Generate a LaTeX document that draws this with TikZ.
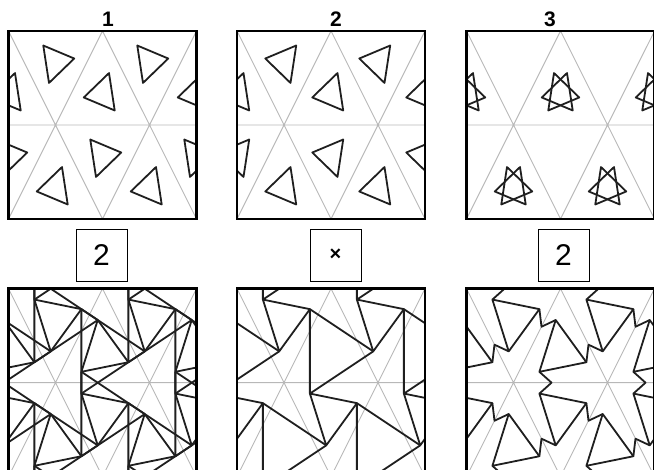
\documentclass[tikz,border=0pt]{standalone}
\usepackage{fontspec}
\setmainfont{Liberation Sans}
\usetikzlibrary{positioning}

\newcommand{\hh}{81.406}  % row height of the triangle grid
\newcommand{\rs}{19}      % small triangles of the top row
\newcommand{\rb}{27.55}   % twist triangles of the bottom row

% triangle: centre x, centre y, radius, angle of first corner
\newcommand{\trigon}[4]{%
  \draw[foldline] ({#1+#3*cos(#4)},{#2+#3*sin(#4)}) -- ({#1+#3*cos(#4+120)},{#2+#3*sin(#4+120)})
    -- ({#1+#3*cos(#4+240)},{#2+#3*sin(#4+240)}) -- cycle;}
% grey grid of one panel
\newcommand{\trigrid}{%
  \draw[gridline] (0,0) -- (94,{-2*\hh}) (94,0) -- (0,{-2*\hh})
    (94,0) -- (188,{-2*\hh}) (188,0) -- (94,{-2*\hh}) (0,-\hh) -- (188,-\hh);}
% pleats of a downward twist
\newcommand{\pleatD}[2]{%
  \draw[foldline] ({#1+\rb*cos(20)},{#2+\rb*sin(20)}) -- ({#1+94+\rb*cos(260)},{#2+\rb*sin(260)})
    ({#1+\rb*cos(20)},{#2+\rb*sin(20)}) -- ({#1+47+\rb*cos(140)},{#2-\hh+\rb*sin(140)})
    ({#1+\rb*cos(140)},{#2+\rb*sin(140)}) -- ({#1+47+\rb*cos(260)},{#2+\hh+\rb*sin(260)});}
% pleats of an upward twist (mirror image)
\newcommand{\pleatU}[2]{%
  \draw[foldline] ({#1+\rb*cos(340)},{#2+\rb*sin(340)}) -- ({#1+94+\rb*cos(100)},{#2+\rb*sin(100)})
    ({#1+\rb*cos(340)},{#2+\rb*sin(340)}) -- ({#1+47+\rb*cos(220)},{#2+\hh+\rb*sin(220)})
    ({#1+\rb*cos(220)},{#2+\rb*sin(220)}) -- ({#1+47+\rb*cos(100)},{#2-\hh+\rb*sin(100)});}
% zigzag links from a downward twist to its three neighbours
\newcommand{\jogD}[2]{%
  \draw[foldline] ({#1+\rb*cos(140)},{#2+\rb*sin(140)}) -- ({#1+28.6*cos(108.3)},{#2+28.6*sin(108.3)})
      -- ({#1+\rb*cos(220)},{#2+2*\hh/3+\rb*sin(220)})
    ({#1+\rb*cos(20)},{#2+\rb*sin(20)}) -- ({#1+28.6*cos(-11.7)},{#2+28.6*sin(-11.7)})
      -- ({#1+47+\rb*cos(100)},{#2-\hh/3+\rb*sin(100)})
    ({#1+\rb*cos(260)},{#2+\rb*sin(260)}) -- ({#1+28.6*cos(228.3)},{#2+28.6*sin(228.3)})
      -- ({#1-47+\rb*cos(340)},{#2-\hh/3+\rb*sin(340)});}

\begin{document}
\begin{tikzpicture}[
    x=1pt, y=1pt,
    panelframe/.style={draw=black, line width=2.4pt},
    gridline/.style={draw=black!28, line width=0.9pt},
    foldline/.style={draw=black!88, line width=1.8pt, line join=round},
    headnum/.style={font=\bfseries\fontsize{21}{21}\selectfont, inner sep=0pt},
    countbox/.style={draw=black, line width=0.8pt, minimum width=51pt, minimum height=52pt, inner sep=0pt, font=\fontsize{30}{30}\selectfont}
]
    \useasboundingbox (0,0) rectangle (654,-470);
    \clip (0,0) rectangle (654,-470);

    % top row
    \begin{scope}[shift={(8.5,-31)}, yscale=1.1547]
        \clip (0,0) rectangle (188,{-2*\hh});
        \trigrid
        \foreach \j in {0,1} {\foreach \i in {-1,0,1,2} {
            \pgfmathsetmacro{\cx}{47+94*\i+47*\j}
            \pgfmathsetmacro{\cy}{-\hh/3-\hh*\j}
            \trigon{\cx}{\cy}{\rs}{10}
            \trigon{\cx+47}{\cy-\hh/3}{\rs}{70}
        }}
    \end{scope}
    \begin{scope}[shift={(237,-31)}, yscale=1.1547]
        \clip (0,0) rectangle (188,{-2*\hh});
        \trigrid
        \foreach \j in {0,1} {\foreach \i in {-1,0,1,2} {
            \pgfmathsetmacro{\cx}{47+94*\i+47*\j}
            \pgfmathsetmacro{\cy}{-\hh/3-\hh*\j}
            \trigon{\cx}{\cy}{\rs}{50}
            \trigon{\cx+47}{\cy-\hh/3}{\rs}{70}
        }}
    \end{scope}
    \begin{scope}[shift={(466.5,-31)}, yscale=1.1547]
        \clip (0,0) rectangle (188,{-2*\hh});
        \trigrid
        \foreach \j in {0,1} {\foreach \i in {-1,0,1,2} {
            \pgfmathsetmacro{\cx}{94+94*\i+47*\j}
            \pgfmathsetmacro{\cy}{-2*\hh/3-\hh*\j}
            \trigon{\cx}{\cy}{\rs}{70}
            \trigon{\cx}{\cy}{\rs}{110}
        }}
    \end{scope}
    \draw[panelframe] (8.5,-31) rectangle ++(188,-188);
    \draw[panelframe] (237,-31) rectangle ++(188,-188);
    \draw[panelframe] (466.5,-31) rectangle ++(188,-188);

    \node[headnum] (h1) at (108,-19) {1};
    \node[headnum] (h2) at (336,-19) {2};
    \node[headnum] (h3) at (550,-19) {3};

    \node[countbox] (c1) at (101.5,-255) {2};
    \node[countbox] (c2) at (335.5,-255) {\fontsize{20}{20}\selectfont\bfseries ×};
    \node[countbox] (c3) at (563.5,-255) {2};

    % bottom row
    \begin{scope}[shift={(8.5,-288.7)}, yscale=1.1547]
        \clip (0,0) rectangle (188,{-2*\hh});
        \trigrid
        \foreach \j in {-1,0,1,2} {\foreach \i in {-2,-1,0,1,2} {
            \pgfmathsetmacro{\cx}{47+94*\i+47*\j}
            \pgfmathsetmacro{\cy}{-\hh/3-\hh*\j}
            \trigon{\cx}{\cy}{\rb}{20}
            \trigon{\cx+47}{\cy-\hh/3}{\rb}{100}
            \pleatD{\cx}{\cy}
            \pleatU{\cx+47}{\cy-\hh/3}
        }}
    \end{scope}
    \begin{scope}[shift={(237,-288.7)}, yscale=1.1547]
        \clip (0,0) rectangle (188,{-2*\hh});
        \trigrid
        \foreach \j in {-1,0,1,2} {\foreach \i in {-2,-1,0,1,2} {
            \pgfmathsetmacro{\cx}{47+94*\i+47*\j}
            \pgfmathsetmacro{\cy}{-\hh/3-\hh*\j}
            \trigon{\cx}{\cy}{\rb}{20}
            \pleatD{\cx}{\cy}
        }}
    \end{scope}
    \begin{scope}[shift={(466.5,-288.7)}, yscale=1.1547]
        \clip (0,0) rectangle (188,{-2*\hh});
        \trigrid
        \foreach \j in {-1,0,1,2} {\foreach \i in {-2,-1,0,1,2} {
            \pgfmathsetmacro{\cx}{47+94*\i+47*\j}
            \pgfmathsetmacro{\cy}{-\hh/3-\hh*\j}
            \trigon{\cx}{\cy}{\rb}{20}
            \trigon{\cx+47}{\cy-\hh/3}{\rb}{100}
            \jogD{\cx}{\cy}
        }}
    \end{scope}
    \draw[panelframe] (8.5,-288.7) rectangle ++(188,-188);
    \draw[panelframe] (237,-288.7) rectangle ++(188,-188);
    \draw[panelframe] (466.5,-288.7) rectangle ++(188,-188);
\end{tikzpicture}
\end{document}
